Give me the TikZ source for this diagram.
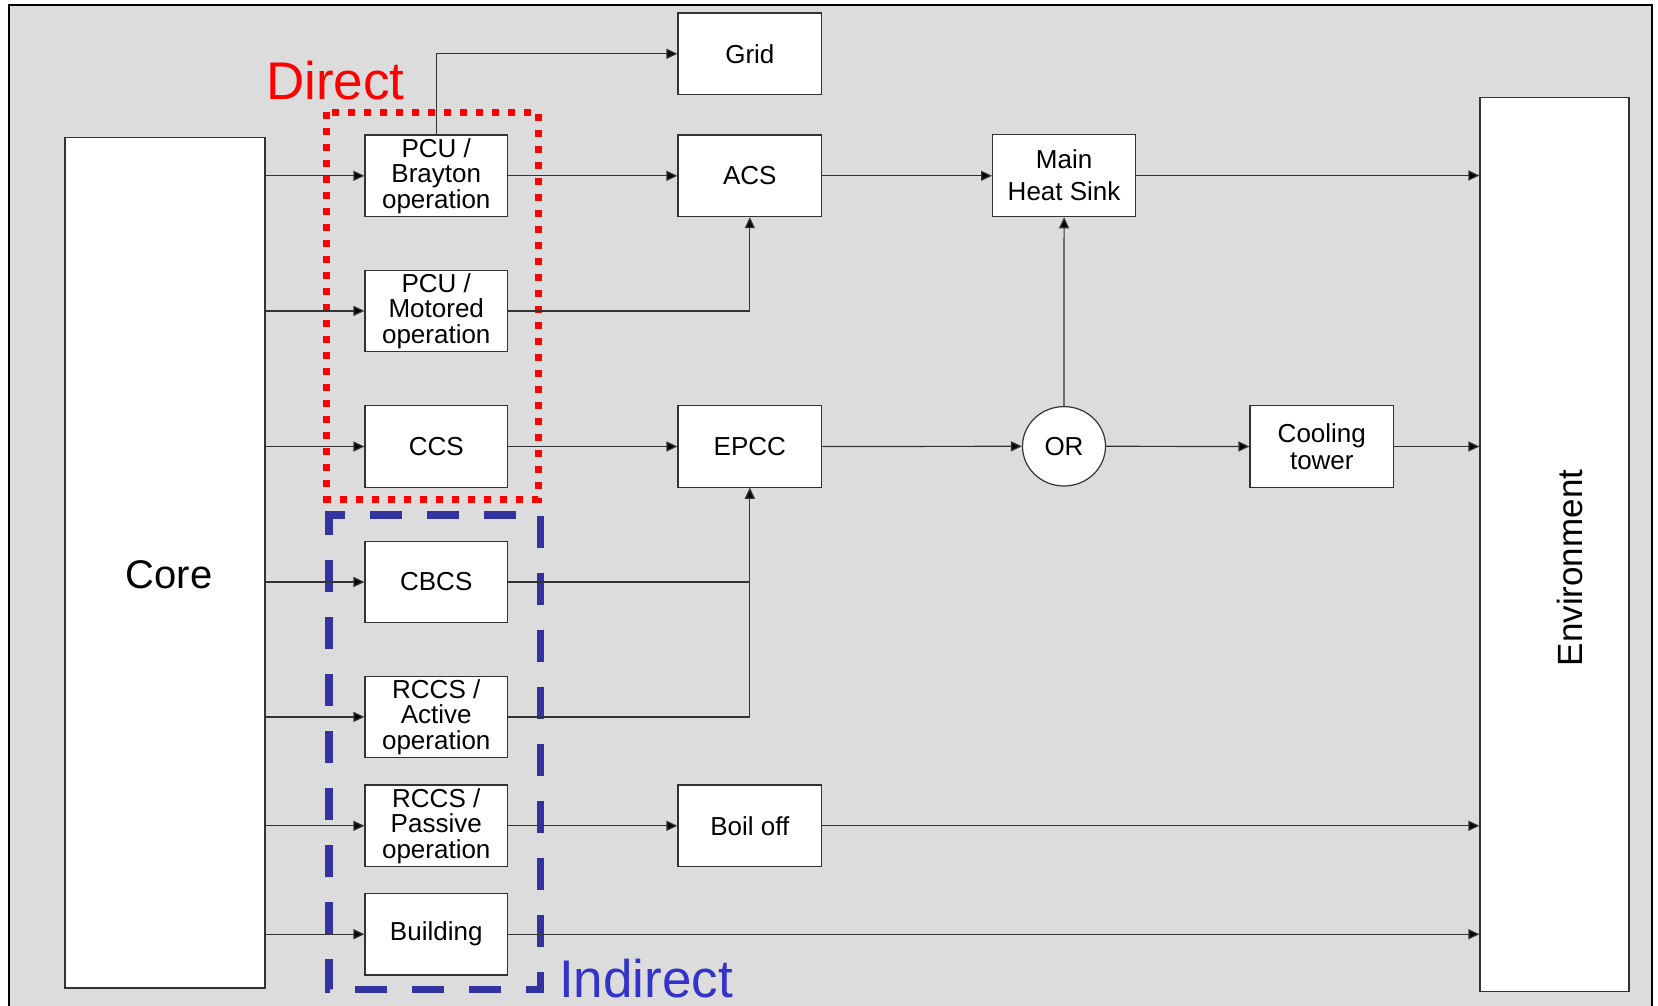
\documentclass[tikz,border=0pt]{standalone}
\usepackage{fontspec}
\setmainfont{Liberation Sans}
\usetikzlibrary{arrows.meta,shapes.geometric}
\definecolor{bggray}{HTML}{DCDCDC}
\definecolor{framered}{HTML}{FF0000}
\definecolor{frameblue}{HTML}{33339F}
\definecolor{textblue}{HTML}{3333CC}
\newcommand\boxfont{\fontsize{26pt}{25.5pt}\selectfont}
\newcommand\corefont{\fontsize{40pt}{44pt}\selectfont}
\newcommand\envfont{\fontsize{35pt}{40pt}\selectfont}
\newcommand\bigfont{\fontsize{53pt}{60pt}\selectfont}
\begin{document}
\begin{tikzpicture}[x=1pt,y=-1pt,
  box/.style={draw=black!80, fill=white, line width=1.2pt, inner sep=0pt, align=center, font=\boxfont},
  lbox/.style={box, minimum width=142.5pt, minimum height=81.5pt},
  mbox/.style={box, minimum width=143.7pt, minimum height=81.6pt},
  arr/.style={draw=black!80, line width=1.2pt, -{Triangle[length=11pt,width=10pt,fill=black]}},
  grplabel/.style={anchor=base west, inner sep=0pt, font=\bigfont}]
\useasboundingbox (0,0) rectangle (1658,1006);
\fill[white] (0,0) rectangle (1658,1006);
\fill[bggray] (9,5) rectangle (1652,1006);
\draw[line width=2.5pt, black] (9,1006) -- (9,5) -- (1652,5) -- (1652,1006);

% group frames
\draw[framered, line width=7pt, dash pattern=on 7pt off 9pt] (326.8,112.3) rectangle (538.4,499);
\draw[frameblue, line width=7.5pt, dash pattern=on 32pt off 25pt] (329,531) -- (329,515) -- (540.5,515) -- (540.5,989.3) -- (329,989.3) -- cycle;

% large boxes
\node[box, minimum width=200pt, minimum height=850.5pt,
  label={[xshift=4pt,yshift=-12pt,font=\corefont]center:Core}] (core) at (165,562.75) {};
\node[box, minimum width=149pt, minimum height=894.4pt,
  label={[xshift=15pt,yshift=-23.5pt,rotate=90,font=\envfont]center:Environment}] (env) at (1554.5,544.5) {};

% left column
\node[lbox] (brayton) at (436.25,175.8) {PCU /\\Brayton\\operation};
\node[lbox] (motored) at (436.25,310.9) {PCU /\\Motored\\operation};
\node[lbox] (ccs) at (436.25,446.5) {CCS};
\node[lbox] (cbcs) at (436.25,582) {CBCS};
\node[lbox] (active) at (436.25,716.9) {RCCS /\\Active\\operation};
\node[lbox] (passive) at (436.25,825.8) {RCCS /\\Passive\\operation};
\node[lbox] (building) at (436.25,934.2) {Building};

% middle column
\node[mbox] (grid) at (749.85,53.8) {Grid};
\node[mbox] (acs) at (749.85,175.8) {ACS};
\node[mbox] (epcc) at (749.85,446.5) {EPCC};
\node[mbox] (boil) at (749.85,825.8) {Boil off};

% right part
\node[box, minimum width=143pt, minimum height=82.4pt, font=\fontsize{26pt}{32pt}\selectfont] (mhs) at (1064.1,175.5) {Main\\Heat Sink};
\node[box, ellipse, minimum width=83pt, minimum height=79.4pt] (orn) at (1064,446.3) {OR};
\node[box, minimum width=143.6pt, minimum height=81.6pt, font=\fontsize{26pt}{27pt}\selectfont] (cool) at (1321.8,446.5) {Cooling\\tower};

% group labels
\node[grplabel, text=framered] (direct) at (266,100) {Direct};
\node[grplabel, text=textblue] (indirect) at (559,997) {Indirect};

% connectors from core
\foreach \n in {brayton,motored,ccs,cbcs,active,passive,building}
  \draw[arr] (core.east |- \n) -- (\n.west);

\draw[arr] (brayton.north) |- (grid.west);
\draw[arr] (brayton.east) -- (acs.west);
\draw[arr] (motored.east) -| (acs.south);
\draw[arr] (acs.east) -- (mhs.west |- acs.east);
\draw[arr] (mhs.east) -- (env.west |- mhs.east);
\draw[arr] (ccs.east) -- (epcc.west);
\draw[arr] (epcc.east) -- (orn.west);
\draw[arr] (orn.north) -- (mhs.south);
\draw[arr] (orn.east) -- (cool.west);
\draw[arr] (cool.east) -- (env.west |- cool.east);
\draw[arr] (cbcs.east) -| (epcc.south);
\draw[arr] (active.east) -| (epcc.south);
\draw[arr] (passive.east) -- (boil.west);
\draw[arr] (boil.east) -- (env.west |- boil.east);
\draw[arr] (building.east) -- (env.west |- building.east);
\end{tikzpicture}
\end{document}
